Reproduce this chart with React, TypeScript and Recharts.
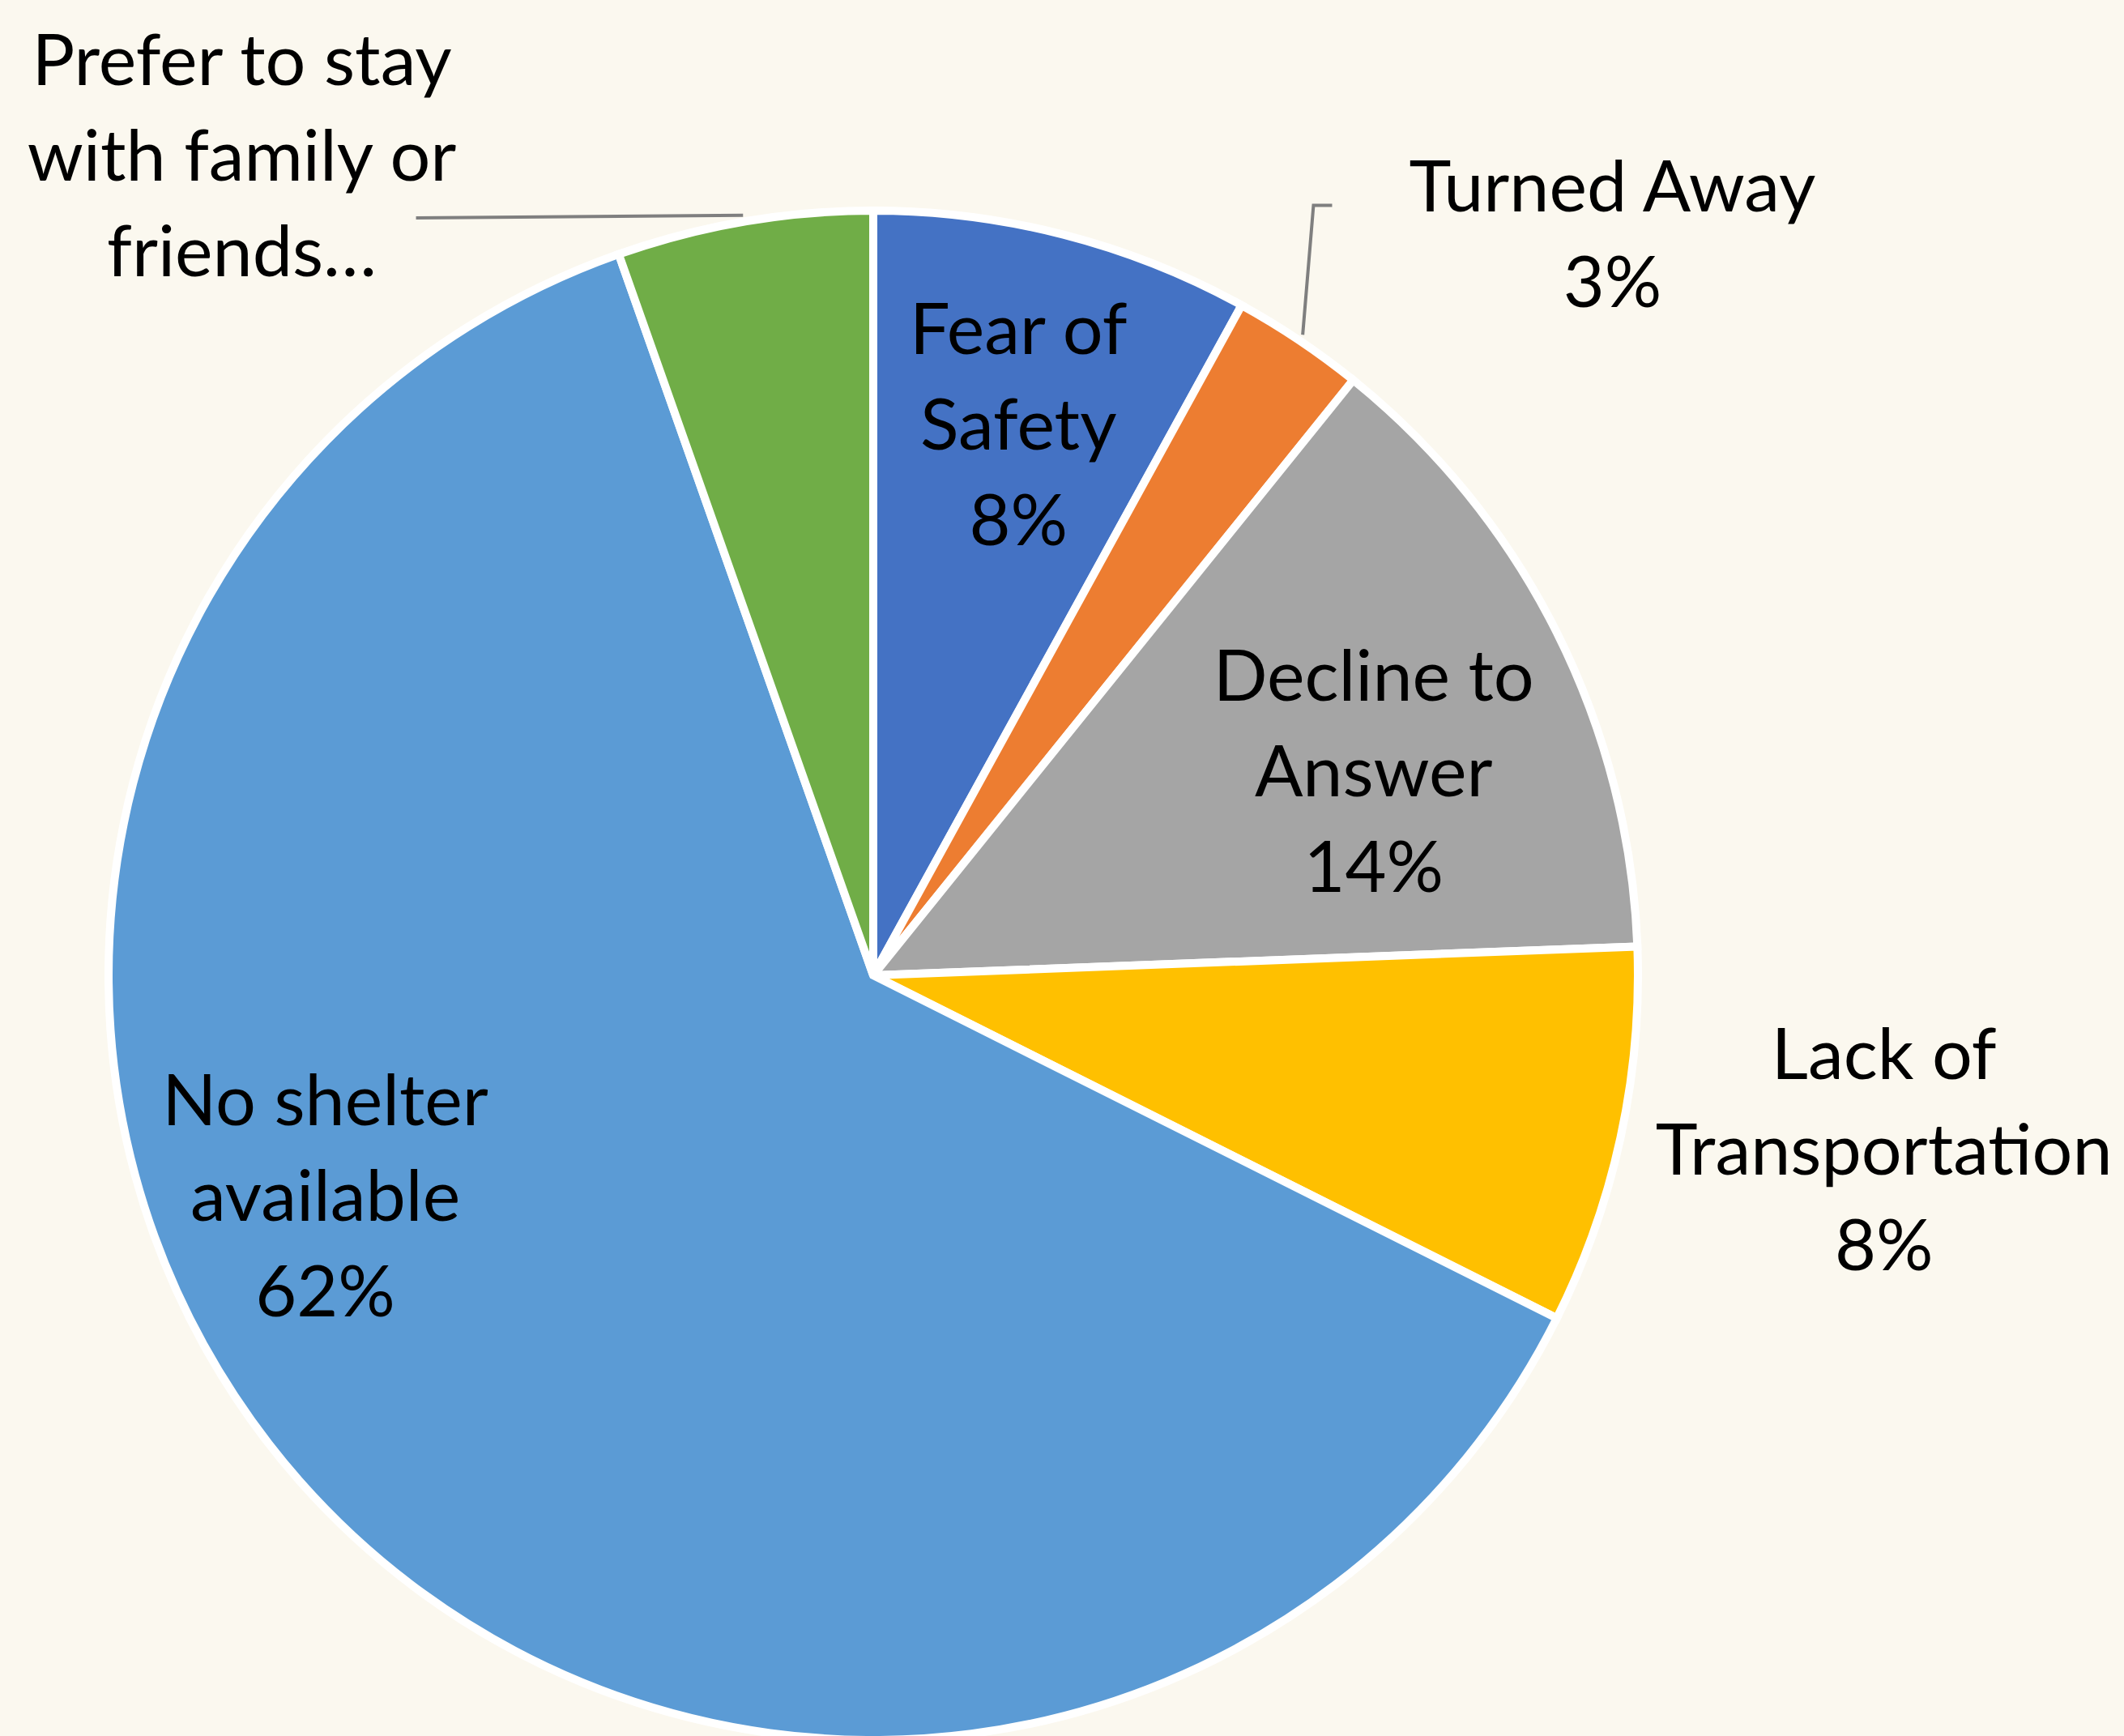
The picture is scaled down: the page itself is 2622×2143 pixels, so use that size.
import { PieChart, Pie, Cell } from "recharts";

const categories = [
  "Fear of Safety",
  "Turned Away",
  "Decline to Answer",
  "Lack of Transportation",
  "No shelter available",
  "Prefer to stay with family or friends...",
];

// share of responses, in percent
const shares = [8.0, 2.8, 13.6, 8.0, 62.2, 5.4];

const labelLines = [
  ["Fear of", "Safety"],
  ["Turned Away"],
  ["Decline to", "Answer"],
  ["Lack of", "Transportation"],
  ["No shelter", "available"],
  ["Prefer to stay", "with family or", "friends…"],
];

const showPercent = [true, true, true, true, true, false];

const colors = ["#4472C4", "#ED7D31", "#A5A5A5", "#FFC000", "#5B9BD5", "#70AD47"];

const data = categories.map((name, i) => ({ name, value: shares[i] }));

// where each label sits: turn from the slice middle (deg, clockwise) and
// distance from the centre as a fraction of the radius
const labelPlace = [
  { turn: 0.3, dist: 0.745 },
  { turn: 11, dist: 1.365, leader: [[-369, -33], [-346, -33]] },
  { turn: 4.2, dist: 0.705 },
  { turn: -2.6, dist: 1.335 },
  { turn: 19.7, dist: 0.768 },
  { turn: -27.8, dist: 1.35, leader: [[215, 80]] },
];

const LINE = 118;
const FONT = "Lato, 'Open Sans', sans-serif";

function renderLabel(props: any) {
  const { cx, cy, midAngle, outerRadius, percent, index } = props;
  const place = labelPlace[index];
  const r = outerRadius + 4;
  const theta = ((90 - midAngle + place.turn) * Math.PI) / 180;
  const lx = cx + r * place.dist * Math.sin(theta);
  const ly = cy - r * place.dist * Math.cos(theta);

  const lines = [...labelLines[index]];
  if (showPercent[index]) lines.push(`${Math.round(percent * 100)}%`);
  const n = lines.length;

  let leader = null;
  if (place.leader) {
    const mid = ((90 - midAngle) * Math.PI) / 180;
    const sx = cx + (r + 4) * Math.sin(mid);
    const sy = cy - (r + 4) * Math.cos(mid);
    const pts = [[sx, sy], ...place.leader.map(([dx, dy]) => [lx + dx, ly + dy])];
    leader = (
      <polyline
        points={pts.map((p) => p.join(",")).join(" ")}
        fill="none"
        stroke="#7f7f7f"
        strokeWidth={4}
      />
    );
  }

  return (
    <g key={`lbl-${index}`}>
      {leader}
      {lines.map((t, i) => (
        <text
          key={i}
          x={lx}
          y={ly + (i - (n - 1) / 2) * LINE}
          textAnchor="middle"
          dominantBaseline="central"
          fontFamily={FONT}
          fontSize={88}
          fill="#000"
        >
          {t}
        </text>
      ))}
    </g>
  );
}

export default function App() {
  return (
    <div
      style={{
        position: "absolute",
        left: 0,
        top: 0,
        width: 2622,
        height: 2143,
        background: "#FBF8EF",
        overflow: "hidden",
      }}
    >
      <PieChart width={2622} height={2143} margin={{ top: 0, right: 0, bottom: 0, left: 0 }}>
        <Pie
          data={data}
          dataKey="value"
          nameKey="name"
          cx={1078}
          cy={1204}
          outerRadius={944}
          startAngle={90}
          endAngle={-270}
          stroke="#ffffff"
          strokeWidth={10}
          label={renderLabel}
          labelLine={false}
          isAnimationActive={false}
        >
          {data.map((d, i) => (
            <Cell key={d.name} fill={colors[i]} stroke="#ffffff" strokeWidth={10} />
          ))}
        </Pie>
      </PieChart>
    </div>
  );
}
